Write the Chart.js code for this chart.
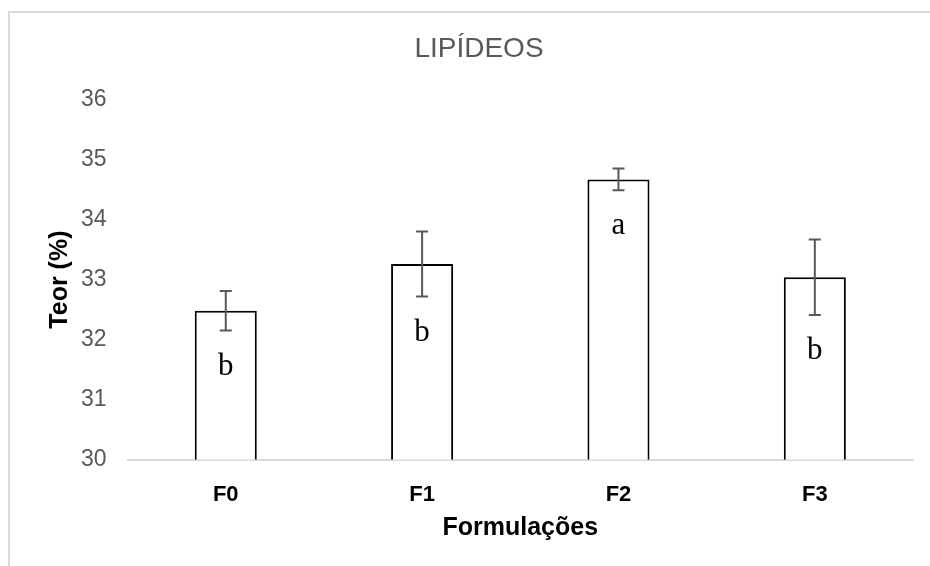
<!DOCTYPE html>
<html>
<head>
<meta charset="utf-8">
<script src="https://cdn.jsdelivr.net/npm/chart.js@4"></script>
<style>
  body { margin: 0; background: #fff; }
  #wrap { width: 930px; height: 566px; }
</style>
</head>
<body>
<div id="wrap"><canvas id="lipideos" width="930" height="566"></canvas></div>
<script>
/* LIPIDEOS - teor por formulacao */
const formulacoes = ['F0', 'F1', 'F2', 'F3'];
const teor = [32.48, 33.26, 34.67, 33.04];
const desvio = [0.33, 0.54, 0.18, 0.63];
const letras = ['b', 'b', 'a', 'b'];
const yTicks = [30, 31, 32, 33, 34, 35, 36];

// moldura cinza do grafico (so esquerda e topo aparecem)
const moldura = {
    id: 'moldura',
    beforeDraw(chart) {
        const ctx = chart.ctx;
        ctx.save();
        ctx.strokeStyle = '#d9d9d9';
        ctx.lineWidth = 2;
        ctx.beginPath();
        ctx.moveTo(9, 566);
        ctx.lineTo(9, 12);
        ctx.lineTo(930, 12);
        ctx.stroke();
        ctx.restore();
    }
};

// barras de erro + letras de significancia
const erros = {
    id: 'erros',
    afterDatasetsDraw(chart) {
        const ctx = chart.ctx;
        const y = chart.scales.y;
        const meta = chart.getDatasetMeta(0);
        ctx.save();
        meta.data.forEach(function(bar, i) {
            const x = bar.x;
            const top = y.getPixelForValue(teor[i] + desvio[i]);
            const bot = y.getPixelForValue(teor[i] - desvio[i]);
            ctx.strokeStyle = '#595959';
            ctx.lineWidth = 2;
            ctx.beginPath();
            ctx.moveTo(x, top); ctx.lineTo(x, bot);
            ctx.moveTo(x - 6, top); ctx.lineTo(x + 6, top);
            ctx.moveTo(x - 6, bot); ctx.lineTo(x + 6, bot);
            ctx.stroke();

            ctx.fillStyle = '#000';
            ctx.font = '31px "Liberation Serif", "DejaVu Serif", serif';
            ctx.textAlign = 'center';
            ctx.textBaseline = 'middle';
            ctx.fillText(letras[i], x, bot + 36);
        });
        ctx.restore();
    }
};

const ctx_lip = document.getElementById('lipideos').getContext('2d');
const lipChart = new Chart(ctx_lip, {
    type: 'bar',
    data: {
        labels: formulacoes,
        datasets: [{
            label: 'Teor (%)',
            data: teor,
            backgroundColor: '#ffffff',
            borderColor: '#000000',
            borderWidth: 2,
            barPercentage: 0.316,
            categoryPercentage: 1.0
        }]
    },
    options: {
        responsive: false,
        animation: false,
        layout: {
            padding: { top: 32, bottom: 23, left: 45, right: 17 }
        },
        plugins: {
            legend: { display: false },
            tooltip: { enabled: false },
            title: {
                display: true,
                text: 'LIPÍDEOS',
                color: '#595959',
                font: { family: '"Liberation Sans", Arial, sans-serif', size: 28, weight: 'normal' },
                padding: { top: 0, bottom: 34 }
            }
        },
        scales: {
            x: {
                grid: { display: false, drawTicks: false },
                border: { display: true, color: '#d9d9d9', width: 2 },
                ticks: {
                    color: '#000',
                    padding: 22,
                    font: { family: '"Liberation Sans", Arial, sans-serif', size: 22, weight: 'bold' }
                },
                title: {
                    display: true,
                    text: 'Formulações',
                    color: '#000',
                    padding: { top: -17, bottom: 0 },
                    font: { family: '"Liberation Sans", Arial, sans-serif', size: 25, weight: 'bold' }
                }
            },
            y: {
                min: yTicks[0],
                max: yTicks[yTicks.length - 1],
                afterBuildTicks(axis) {
                    axis.ticks = yTicks.map(v => ({ value: v }));
                },
                grid: { display: false, drawTicks: false },
                border: { display: false },
                ticks: {
                    color: '#595959',
                    padding: 21,
                    font: { family: '"Liberation Sans", Arial, sans-serif', size: 23 }
                },
                title: {
                    display: true,
                    text: 'Teor (%)',
                    color: '#000',
                    padding: { top: 0, bottom: -15 },
                    font: { family: '"Liberation Sans", Arial, sans-serif', size: 25, weight: 'bold' }
                }
            }
        }
    },
    plugins: [moldura, erros]
});
</script>
</body>
</html>
